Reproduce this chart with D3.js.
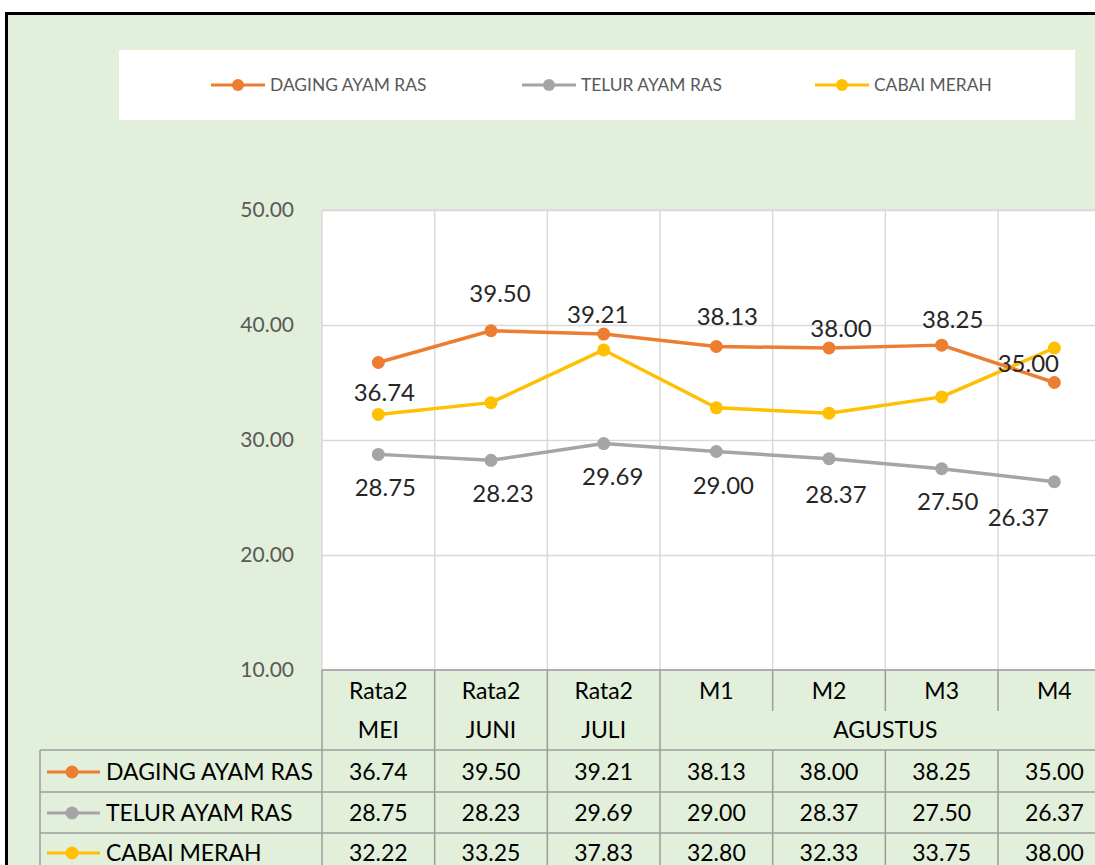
<!DOCTYPE html>
<head>
  <meta charset="utf-8">
  <script src="https://d3js.org/d3.v7.min.js"></script>
  <style>
    body { margin:0; background:#fff; }
    svg { font-family: Lato, "Open Sans", sans-serif; display:block; }
  </style>
</head>
<body>
<svg width="1095" height="865"></svg>

<script>
  // chart values
  var tickLabels  = ["Rata2", "Rata2", "Rata2", "M1", "M2", "M3", "M4"];
  var monthLabels = ["MEI", "JUNI", "JULI", "AGUSTUS", "AGUSTUS", "AGUSTUS", "AGUSTUS"];
  var seriesNames = ["DAGING AYAM RAS", "TELUR AYAM RAS", "CABAI MERAH"];
  var dagingAyam  = [36.74, 39.50, 39.21, 38.13, 38.00, 38.25, 35.00];
  var telurAyam   = [28.75, 28.23, 29.69, 29.00, 28.37, 27.50, 26.37];
  var cabaiMerah  = [32.22, 33.25, 37.83, 32.80, 32.33, 33.75, 38.00];
  var yTicks      = [10, 20, 30, 40, 50];

  var colors = ["#ED7D31", "#A5A5A5", "#FFC000"];
  var series = [dagingAyam, telurAyam, cabaiMerah];

  // hand-placed data labels (pixel nudges from the point), yellow has none
  var labelNudge = [
    [[6, 30], [9, -37], [-6, -20], [11, -30], [12, -20], [11, -26], [-26, -19]],
    [[7, 33], [12, 33], [9, 33], [7, 34], [7, 36], [6, 33], [-36, 36]],
    null
  ];

  var svg = d3.select("svg");
  var green = "#E2EFDA";
  var tableLine = "#9c9c9c";

  // chart area
  svg.append("rect")
    .attr("x", 6.5).attr("y", 13.5)
    .attr("width", 1200).attr("height", 1000)
    .attr("fill", green)
    .attr("stroke", "#000").attr("stroke-width", 3);

  // legend
  svg.append("rect")
    .attr("x", 119).attr("y", 50).attr("width", 956).attr("height", 70)
    .attr("fill", "#fff");

  var legendX = [211, 522, 815];
  var legend = svg.selectAll("g.legend")
    .data(seriesNames)
    .enter().append("g")
    .attr("class", "legend")
    .attr("transform", function(d, i) { return "translate(" + legendX[i] + ",85)"; });
  legend.append("line")
    .attr("x1", 0).attr("x2", 54)
    .attr("stroke", function(d, i) { return colors[i]; })
    .attr("stroke-width", 3);
  legend.append("circle")
    .attr("cx", 27).attr("r", 6)
    .attr("fill", function(d, i) { return colors[i]; });
  legend.append("text")
    .attr("x", 59).attr("dy", "0.36em")
    .attr("font-size", 17.4)
    .attr("fill", "#595959")
    .text(function(d) { return d; });

  // scales
  var x = d3.scaleBand()
    .domain(d3.range(tickLabels.length))
    .range([322, 322 + 7 * 112.67]);
  var y = d3.scaleLinear()
    .domain([10, 50])
    .range([670, 210]);
  var bw = x.bandwidth();
  var cx = function(i) { return x(i) + bw / 2; };

  // plot area
  svg.append("rect")
    .attr("x", 322).attr("y", 210)
    .attr("width", 900).attr("height", 460)
    .attr("fill", "#fff")
    .attr("stroke", "#d9d9d9").attr("stroke-width", 1.5);

  var yAxis = svg.append("g")
    .attr("transform", "translate(322,0)")
    .call(d3.axisLeft(y)
      .tickValues(yTicks)
      .tickSize(-900)
      .tickPadding(28)
      .tickFormat(d3.format(".2f")));
  yAxis.select(".domain").remove();
  yAxis.selectAll("line")
    .attr("stroke", function(d) { return d === 10 ? "none" : "#d9d9d9"; })
    .attr("stroke-width", 1.5);
  yAxis.selectAll("text")
    .attr("font-family", "Lato, sans-serif")
    .attr("font-size", 21)
    .attr("fill", "#595959");

  svg.append("g").selectAll("line")
    .data(d3.range(1, tickLabels.length))
    .enter().append("line")
    .attr("x1", function(i) { return x(i); })
    .attr("x2", function(i) { return x(i); })
    .attr("y1", 210).attr("y2", 670)
    .attr("stroke", "#d9d9d9").attr("stroke-width", 1.5);

  // series lines and markers
  var line = d3.line()
    .x(function(d, i) { return cx(i); })
    .y(function(d) { return y(d); });

  var drawOrder = [1, 2, 0];
  drawOrder.forEach(function(s) {
    var g = svg.append("g");
    g.append("path")
      .datum(series[s])
      .attr("d", line)
      .attr("fill", "none")
      .attr("stroke", colors[s])
      .attr("stroke-width", 3.5)
      .attr("stroke-linejoin", "round");
    g.selectAll("circle")
      .data(series[s])
      .enter().append("circle")
      .attr("cx", function(d, i) { return cx(i); })
      .attr("cy", function(d) { return y(d); })
      .attr("r", 6.5)
      .attr("fill", colors[s]);
  });

  // data labels
  [0, 1].forEach(function(s) {
    svg.append("g").selectAll("text")
      .data(series[s])
      .enter().append("text")
      .attr("x", function(d, i) { return cx(i) + labelNudge[s][i][0]; })
      .attr("y", function(d, i) { return y(d) + labelNudge[s][i][1]; })
      .attr("dy", "0.36em")
      .attr("text-anchor", "middle")
      .attr("font-size", 24)
      .attr("fill", "#262626")
      .text(function(d) { return d3.format(".2f")(d); });
  });

  // data table
  var table = svg.append("g");
  var right = 1200;
  var rowTop = [750, 792, 833, 875];

  table.append("line")
    .attr("x1", 322).attr("x2", right).attr("y1", 670).attr("y2", 670);
  rowTop.forEach(function(r) {
    table.append("line")
      .attr("x1", 40).attr("x2", right).attr("y1", r).attr("y2", r);
  });
  table.append("line")
    .attr("x1", 40).attr("x2", 40).attr("y1", 750).attr("y2", 900);
  d3.range(tickLabels.length + 1).forEach(function(i) {
    var xx = i < tickLabels.length ? x(i) : x.range()[1];
    var top = 670;
    // columns sharing one month label are only split in the top header row
    var joined = i > 0 && i < monthLabels.length && monthLabels[i] === monthLabels[i - 1];
    table.append("line")
      .attr("x1", xx).attr("x2", xx).attr("y1", top).attr("y2", joined ? 711 : 900);
    if (joined) {
      table.append("line")
        .attr("x1", xx).attr("x2", xx).attr("y1", 750).attr("y2", 900);
    }
  });
  table.selectAll("line")
    .attr("stroke", tableLine).attr("stroke-width", 1.5);

  table.selectAll("text.tick")
    .data(tickLabels)
    .enter().append("text")
    .attr("x", function(d, i) { return cx(i); })
    .attr("y", 691).attr("dy", "0.36em")
    .attr("text-anchor", "middle")
    .attr("font-size", 23)
    .text(function(d) { return d; });

  // merge consecutive months into one header cell
  var months = [];
  monthLabels.forEach(function(m, i) {
    var last = months[months.length - 1];
    if (last && last.label === m) last.to = i;
    else months.push({ label: m, from: i, to: i });
  });
  table.selectAll("text.month")
    .data(months)
    .enter().append("text")
    .attr("x", function(d) { return (x(d.from) + x(d.to) + bw) / 2; })
    .attr("y", 730).attr("dy", "0.36em")
    .attr("text-anchor", "middle")
    .attr("font-size", 23)
    .text(function(d) { return d.label; });

  var rowMid = [772, 813, 853];
  series.forEach(function(vals, s) {
    var row = table.append("g");
    row.append("line")
      .attr("x1", 47).attr("x2", 100)
      .attr("y1", rowMid[s]).attr("y2", rowMid[s])
      .attr("stroke", colors[s]).attr("stroke-width", 3);
    row.append("circle")
      .attr("cx", 72).attr("cy", rowMid[s]).attr("r", 6.5)
      .attr("fill", colors[s]);
    row.append("text")
      .attr("x", 106).attr("y", rowMid[s]).attr("dy", "0.36em")
      .attr("font-size", 23)
      .text(seriesNames[s]);
    row.selectAll("text.val")
      .data(vals)
      .enter().append("text")
      .attr("x", function(d, i) { return cx(i); })
      .attr("y", rowMid[s]).attr("dy", "0.36em")
      .attr("text-anchor", "middle")
      .attr("font-size", 23)
      .text(function(d) { return d3.format(".2f")(d); });
  });
</script>
</body>
